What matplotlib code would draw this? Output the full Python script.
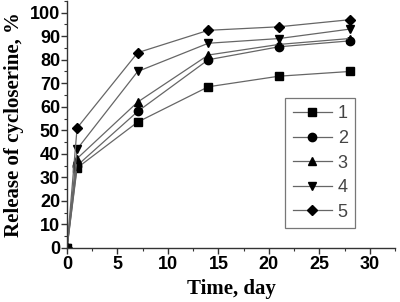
import matplotlib
matplotlib.use("Agg")
import matplotlib.pyplot as plt
from matplotlib.ticker import MultipleLocator

days = [0, 1, 7, 14, 21, 28]
s1 = [0, 34, 53.5, 68.5, 73, 75]
s2 = [0, 35, 58, 80, 85.5, 88]
s3 = [0, 38, 62, 82, 86.5, 89]
s4 = [0, 42, 75, 87, 89, 93]
s5 = [0, 51, 83, 92.5, 94, 97]
labels = ["1", "2", "3", "4", "5"]
markers = ["s", "o", "^", "v", "D"]

fig = plt.figure(figsize=(4, 3.02), dpi=100)
ax = fig.add_axes([0.1675, 0.179, 0.82, 0.818])
for ys, lab, m in zip([s1, s2, s3, s4, s5], labels, markers):
    ax.plot(days, ys, color="#666666", lw=0.9, marker=m, markersize=6 if m != "D" else 5.5,
            markerfacecolor="black", markeredgecolor="black", label=lab)

ax.set_xlim(0, 32.5)
ax.set_ylim(0, 105)
ax.xaxis.set_major_locator(MultipleLocator(5))
ax.xaxis.set_minor_locator(MultipleLocator(2.5))
ax.yaxis.set_major_locator(MultipleLocator(10))
ax.yaxis.set_minor_locator(MultipleLocator(5))
for s in ["top", "right"]:
    ax.spines[s].set_visible(False)
for s in ["left", "bottom"]:
    ax.spines[s].set_color("#333333")
    ax.spines[s].set_linewidth(1.0)
ax.tick_params(which="major", length=4, width=1, direction="out", color="#333333")
ax.tick_params(which="minor", length=2, width=0.8, direction="out", color="#333333")
for t in ax.get_xticklabels() + ax.get_yticklabels():
    t.set_fontfamily("Liberation Sans")
    t.set_fontweight("bold")
    t.set_fontsize(13)
ax.tick_params(axis="x", pad=2)
ax.tick_params(axis="y", pad=1)

ax.set_xlabel("Time, day", fontfamily="Liberation Serif", fontweight="bold", fontsize=15, labelpad=4)
ax.set_ylabel("Release of cycloserine, %", fontfamily="Liberation Serif", fontweight="bold", fontsize=15, labelpad=2)
ax.yaxis.set_label_coords(-0.13, 0.5)

leg = ax.legend(loc="lower right", bbox_to_anchor=(0.878, 0.081), borderaxespad=0, frameon=True, fancybox=False,
                edgecolor="#555555", handlelength=2.2, handletextpad=0.3,
                labelspacing=0.42, borderpad=0.4, prop={"family": "Liberation Sans", "size": 13})
for t in leg.get_texts():
    t.set_color("#444444")
leg.get_frame().set_linewidth(0.9)

fig.savefig("out.png", dpi=100)
